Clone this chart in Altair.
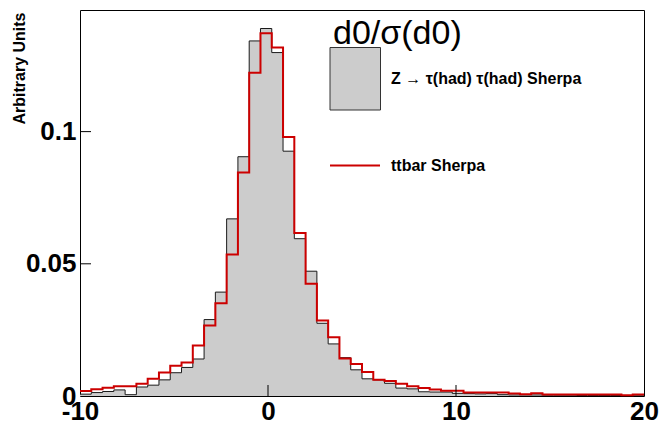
import altair as alt
import pandas as pd

# ---------------- data ----------------
x_min, x_max, bin_width = -10.0, 20.0, 0.6
y_max = 0.146

# Z -> tau(had) tau(had) Sherpa (gray filled histogram), 50 bins
z_vals = [0.0007, 0.0013, 0.0017, 0.0023, 0.0005, 0.0034, 0.0041, 0.0061, 0.0088, 0.0108,
          0.0140, 0.0289, 0.0393, 0.0670, 0.0905, 0.1343, 0.1390, 0.1299, 0.0926, 0.0595,
          0.0472, 0.0275, 0.0197, 0.0145, 0.0099, 0.0065, 0.0061, 0.0048, 0.0030, 0.0027,
          0.0016, 0.0015, 0.0015, 0.0010, 0.0009, 0.0008, 0.0009, 0.0005, 0.0004, 0.0004,
          0.0004, 0.0003, 0.0003, 0.0003, 0.0002, 0.0002, 0.0002, 0.0002, 0.0002, 0.0003]

# ttbar Sherpa (red line histogram), 50 bins
tt_vals = [0.0019, 0.0026, 0.0031, 0.0037, 0.0037, 0.0046, 0.0065, 0.0089, 0.0114, 0.0127,
           0.0191, 0.0267, 0.0351, 0.0535, 0.0845, 0.1223, 0.1372, 0.1318, 0.0980, 0.0617,
           0.0425, 0.0286, 0.0222, 0.0142, 0.0121, 0.0091, 0.0061, 0.0057, 0.0046, 0.0037,
           0.0030, 0.0025, 0.0020, 0.0020, 0.0013, 0.0013, 0.0013, 0.0013, 0.0009, 0.0007,
           0.0010, 0.0006, 0.0006, 0.0006, 0.0006, 0.0006, 0.0006, 0.0006, 0.0003, 0.0006]

x_tick_values = [-10, 0, 10, 20]
y_tick_values = [0, 0.05, 0.1]
x_inner_ticks = [0, 10]
y_inner_ticks = [0.05, 0.1]

y_title = "Arbitrary Units"
legend_title = "d0/σ(d0)"
series_names = ["Z → τ(had) τ(had) Sherpa", "ttbar Sherpa"]

# ---------------- tables ----------------
n = len(z_vals)
lo = [round(x_min + bin_width * i, 4) for i in range(n)]
step = pd.DataFrame({
    "x": lo + [x_max],
    "z": z_vals + [z_vals[-1]],
    "tt": tt_vals + [tt_vals[-1]],
})

FONT = "Liberation Sans"
W, H = 564, 386

xscale = alt.Scale(domain=[x_min, x_max], nice=False, zero=False)
yscale = alt.Scale(domain=[0, y_max], nice=False, zero=False)

xaxis = alt.Axis(values=x_tick_values, title="", labelFlush=False, labelOverlap=False,
                 labelBound=False, labelPadding=2, labelExpr="datum.value + ''")
yaxis = alt.Axis(values=y_tick_values, title=y_title, labelFlush=False, labelOverlap=False,
                 labelBound=False, labelPadding=4, format="~g",
                 titleAngle=270, titleAlign="right", titleBaseline="middle",
                 titleX=-60.5, titleY=2, titleFontSize=16, titleFontWeight="bold",
                 titleFont=FONT, titleColor="black")

X = alt.X("x:Q", scale=xscale, axis=xaxis)

area = alt.Chart(step).mark_area(interpolate="step-after", color="#cccccc").encode(
    x=X, y=alt.Y("z:Q", scale=yscale, axis=yaxis))

zline = alt.Chart(step).mark_line(interpolate="step-after", color="#1a1a1a",
                                  strokeWidth=1).encode(
    x=X, y=alt.Y("z:Q", scale=yscale, axis=yaxis))

ttline = alt.Chart(step).mark_line(interpolate="step-after", color="#cc0000",
                                   strokeWidth=2).encode(
    x=X, y=alt.Y("tt:Q", scale=yscale, axis=yaxis))

yt = alt.Chart(pd.DataFrame({"v": y_inner_ticks})).mark_rule(color="black", strokeWidth=1).encode(
    y=alt.Y("v:Q", scale=yscale, axis=yaxis), x=alt.value(0), x2=alt.value(11))

xt = alt.Chart(pd.DataFrame({"v": x_inner_ticks})).mark_rule(color="black", strokeWidth=1).encode(
    x=alt.X("v:Q", scale=xscale, axis=xaxis), y=alt.value(H), y2=alt.value(H - 11))

# ---------------- legend (drawn by hand, ROOT style) ----------------
leg_title = alt.Chart(pd.DataFrame({"t": [legend_title]})).mark_text(
    font=FONT, fontSize=34, align="left", baseline="alphabetic", color="black").encode(
    x=alt.value(253), y=alt.value(33.5), text="t:N")

leg_box = alt.Chart(pd.DataFrame({"t": [series_names[0]]})).mark_rect(
    fill="#cccccc", stroke="#333333", strokeWidth=1).encode(
    x=alt.value(250), x2=alt.value(300.5), y=alt.value(37.5), y2=alt.value(100))

leg_line = alt.Chart(pd.DataFrame({"t": [series_names[1]]})).mark_rule(
    color="#cc0000", strokeWidth=2).encode(
    x=alt.value(250), x2=alt.value(300), y=alt.value(155.5))

leg_text = alt.Chart(pd.DataFrame({"t": series_names, "yy": [69, 155.5]})).mark_text(
    font=FONT, fontSize=16, fontWeight="bold", align="left", baseline="middle",
    color="black").encode(
    x=alt.value(311), y=alt.Y("yy:Q", scale=None, axis=None), text="t:N")

chart = alt.layer(area, zline, ttline, yt, xt, leg_box, leg_line, leg_title, leg_text).properties(
    width=W, height=H,
    autosize=alt.AutoSizeParams(type="none"),
    padding={"left": 80, "top": 10, "right": 18, "bottom": 28},
    background="white",
).configure_view(
    stroke="black", strokeWidth=1
).configure_axis(
    domain=False, ticks=False, grid=False,
    labelFont=FONT, labelFontSize=26, labelFontWeight="bold", labelColor="black",
)

chart.save("out.html", embed_options={"renderer": "svg", "actions": False})
